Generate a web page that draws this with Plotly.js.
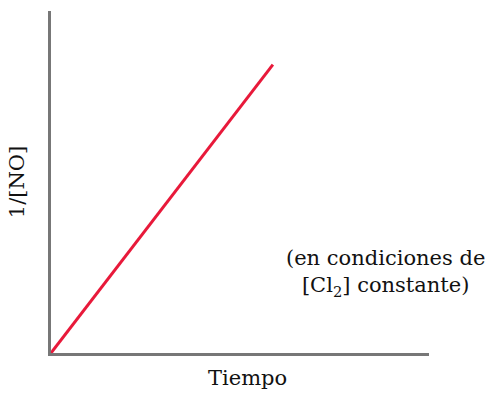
<!DOCTYPE html>
<html>
<head>
<meta charset="utf-8">
<script src="https://cdn.plot.ly/plotly-3.0.1.min.js"></script>
<style>
  html, body { margin: 0; padding: 0; background: #fff; }
  #plot { width: 489px; height: 393px; }
</style>
</head>
<body>
<div id="plot"></div>
<script>
// Values (arbitrary units)
const tiempo = [0, 5.87];
const invNO = [0, 8.43];

const serif = "DejaVu Serif, Liberation Serif, serif";
const txt = { family: serif, size: 21, color: "#111111" };

const data = [
  {
    x: tiempo,
    y: invNO,
    type: "scatter",
    mode: "lines",
    line: { color: "#e8193a", width: 3 },
    hoverinfo: "skip",
  },
];

const axisStyle = {
  range: [0, 10],
  showline: true,
  linecolor: "#777777",
  linewidth: 3,
  showgrid: false,
  zeroline: false,
  showticklabels: false,
  ticks: "",
  fixedrange: true,
};

const layout = {
  width: 489,
  height: 393,
  margin: { l: 51, r: 60, t: 11, b: 40 },
  paper_bgcolor: "#ffffff",
  plot_bgcolor: "#ffffff",
  showlegend: false,
  font: txt,
  xaxis: Object.assign({}, axisStyle),
  yaxis: Object.assign({}, axisStyle, {
    title: { text: "1/[NO]", standoff: 18, font: txt },
  }),
  annotations: [
    {
      // x axis title, set slightly right of centre as in the original
      xref: "paper",
      yref: "paper",
      x: 0.52,
      y: -0.072,
      xanchor: "center",
      yanchor: "middle",
      text: "Tiempo",
      showarrow: false,
      font: txt,
    },
    {
      xref: "paper",
      yref: "paper",
      x: 0.886,
      y: 0.233,
      xanchor: "center",
      yanchor: "middle",
      text: "(en condiciones de<br>[Cl<sub>2</sub>] constante)",
      showarrow: false,
      align: "center",
      font: txt,
    },
  ],
};

Plotly.newPlot("plot", data, layout, { displayModeBar: false, staticPlot: true });
</script>
</body>
</html>
